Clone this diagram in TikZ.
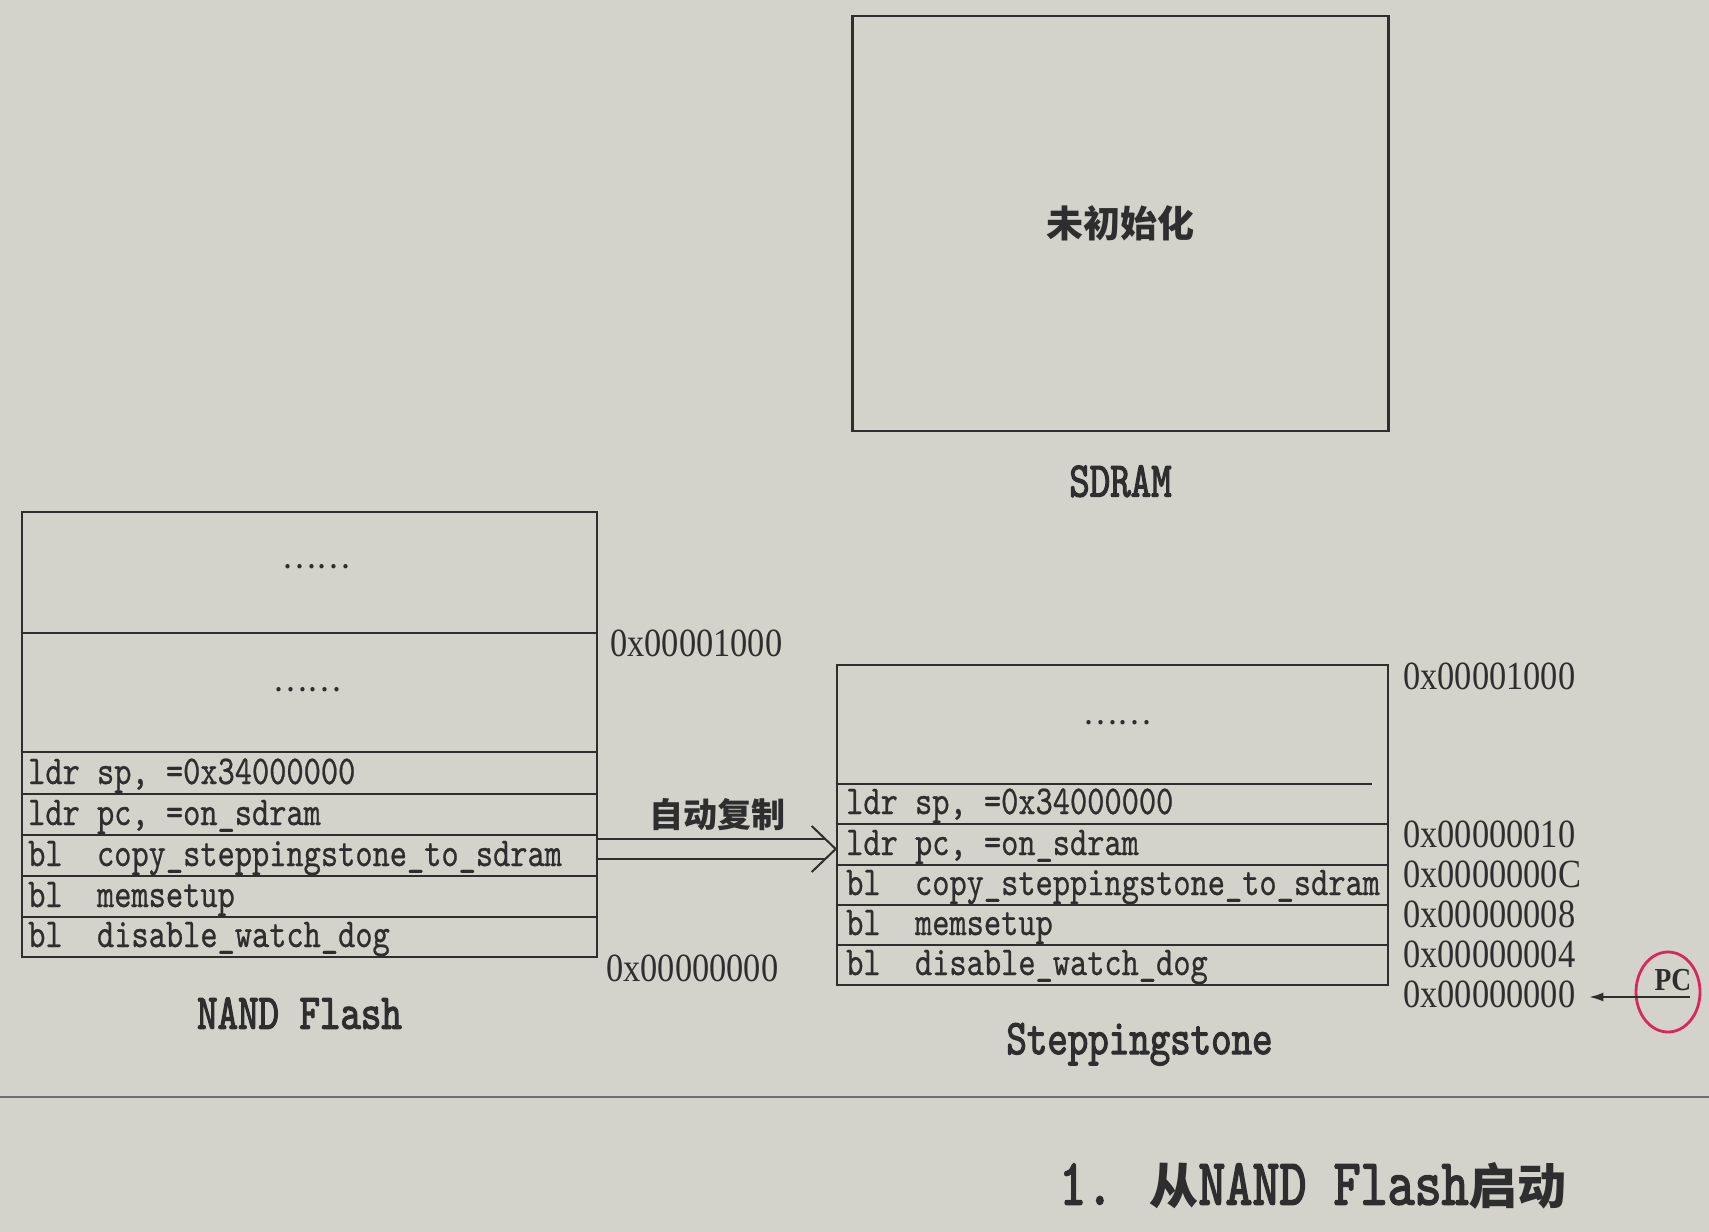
\documentclass[tikz,border=0pt]{standalone}
\usepackage{fontspec}
\setmainfont{Liberation Serif}
\newfontfamily\cjk{Noto Sans CJK SC}
\newfontfamily\codefont{lmmono10-regular}[Extension=.otf, FakeStretch=0.8, FakeBold=0.6]
\newfontfamily\hexfont[FakeStretch=0.86]{Liberation Serif}
\newfontfamily\labfont{lmmono10-regular}[Extension=.otf, FakeStretch=0.78, FakeBold=2.2]
\usetikzlibrary{arrows.meta,calc,shapes.geometric}
\definecolor{paper}{HTML}{D3D3CC}
\definecolor{ink}{HTML}{2E2E2E}
\definecolor{pcred}{HTML}{D8285A}

\begin{document}
\begin{tikzpicture}[
    x=1pt, y=-1pt,
    >={Latex[length=14pt,width=9pt]},
    line cap=butt, line join=miter,
    membox/.style={draw=ink, line width=2.6pt, inner sep=0pt},
    rowline/.style={ink, line width=2pt},
    code/.style={anchor=base west, inner sep=0pt, text=ink, font=\codefont\fontsize{41}{41}\selectfont},
    addr/.style={anchor=west, inner sep=0pt, text=ink, font=\hexfont\fontsize{40}{40}\selectfont},
    memname/.style={inner sep=0pt, text=ink, font=\labfont\fontsize{50}{50}\selectfont},
    ellip/.style={inner sep=0pt, text=ink, font=\cjk\fontsize{32}{32}\selectfont},
    hanzi/.style={inner sep=0pt, text=ink, font=\cjk\bfseries\fontsize{37}{37}\selectfont},
    hollow/.style={ink, line width=2pt},
    pcring/.style={draw=pcred, line width=2.8pt, ellipse, minimum width=64pt, minimum height=80pt, inner sep=0pt},
    pcarrow/.style={ink, line width=1.6pt, ->},
]

% --- Page ---
\useasboundingbox (0,0) rectangle (1709,1232);
\fill[paper] (0,0) rectangle (1709,1232);

% --- SDRAM (not yet initialised) ---
\node[membox, minimum width=536pt, minimum height=415pt] (sdram) at (1120.5,223.5) {};
\node[hanzi] (uninit) at (sdram.center) {未初始化};
\node[memname] (sdramname) at ($(sdram.south)+(0,49)$) {SDRAM};

% --- NAND Flash ---
\node[membox, minimum width=575pt, minimum height=445pt] (nand) at (309.5,734.5) {};
\foreach \y in {633,752,794,835,876,917}
    \draw[rowline] (nand.west |- 0,\y) -- (nand.east |- 0,\y);
\node[ellip] (ndotsa) at (316,567) {……};
\node[ellip] (ndotsb) at (307,690) {……};
\node[code] (nsp)   at (28,784) {ldr sp, =0x34000000};
\node[code] (npc)   at (28,825) {ldr pc, =on\_sdram};
\node[code] (ncopy) at (28,866) {bl\ \ copy\_steppingstone\_to\_sdram};
\node[code] (nmem)  at (28,907) {bl\ \ memsetup};
\node[code] (nwdog) at (28,947) {bl\ \ disable\_watch\_dog};
\node[addr] (n1000) at (610,643) {0x00001000};
\node[addr] (n0000) at (606,968) {0x00000000};
\node[memname] (nandname) at ($(nand.south)+(-10,55)$) {NAND Flash};

% --- Steppingstone ---
\node[membox, minimum width=551pt, minimum height=320pt] (stone) at (1112.5,825) {};
\draw[rowline] (stone.west |- 0,784) -- (1372,784);
\foreach \y in {824,865,905,945}
    \draw[rowline] (stone.west |- 0,\y) -- (stone.east |- 0,\y);
\node[ellip] (sdots) at (1117,723) {……};
\node[code] (ssp)   at (846,814) {ldr sp, =0x34000000};
\node[code] (spc)   at (846,855) {ldr pc, =on\_sdram};
\node[code] (scopy) at (846,895) {bl\ \ copy\_steppingstone\_to\_sdram};
\node[code] (smem)  at (846,935) {bl\ \ memsetup};
\node[code] (swdog) at (846,975) {bl\ \ disable\_watch\_dog};
\node[addr] (s1000) at (1403,676) {0x00001000};
\node[addr] (s0010) at (1403,834) {0x00000010};
\node[addr] (s000c) at (1403,874) {0x0000000C};
\node[addr] (s0008) at (1403,914) {0x00000008};
\node[addr] (s0004) at (1403,954) {0x00000004};
\node[addr] (s0000) at (1403,994) {0x00000000};
\node[memname] (stonename) at ($(stone.south)+(27,58)$) {Steppingstone};

% --- Automatic copy (hollow arrow) ---
\coordinate (tip) at (stone.west |- 0,849);
\draw[hollow] (nand.east |- 0,839) -- ($(tip)+(-10.5,-10)$);
\draw[hollow] (nand.east |- 0,859) -- ($(tip)+(-10.5,10)$);
\draw[hollow] ($(tip)+(-24,-23)$) -- (tip) -- ($(tip)+(-24,23)$);
\node[hanzi, font=\cjk\bfseries\fontsize{34}{34}\selectfont] (copylbl) at (717,815) {自动复制};

% --- PC marker ---
\node[pcring] (pc) at (1668,992) {};
\node[inner sep=0pt, text=ink, font=\hexfont\bfseries\fontsize{32}{32}\selectfont] (pcname) at (1673,980) {PC};
\coordinate (pcfrom) at ($(pc.center)+(22,5)$);
\draw[pcarrow] (pcfrom) -- ($(pcfrom -| s0000.east)+(14,0)$);

% --- Rule and figure title ---
\draw[ink!70, line width=2pt] (0,1097) -- (1709,1097);
\node[inner sep=0pt, text=ink] (title) at (1313,1186)
    {\labfont\fontsize{66}{66}\selectfont 1. {\cjk\bfseries\fontsize{49}{49}\selectfont 从}NAND Flash{\cjk\bfseries\fontsize{49}{49}\selectfont 启动}};

\end{tikzpicture}
\end{document}
